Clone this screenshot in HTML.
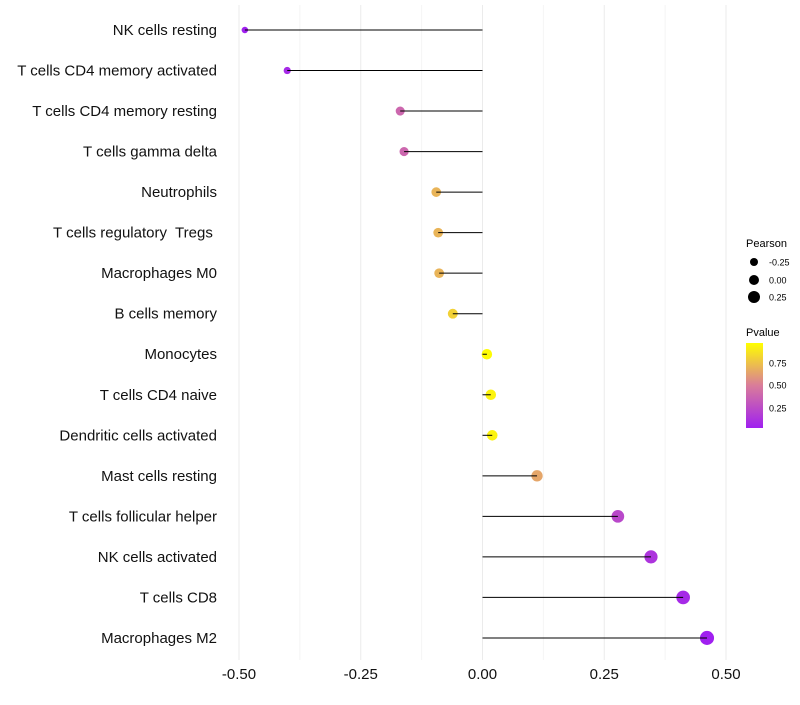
<!DOCTYPE html>
<html><head><meta charset="utf-8"><style>
body{margin:0;background:#fff;font-family:"Liberation Sans",sans-serif}
text{white-space:pre}
</style></head><body>
<svg id="chart" width="800" height="700" xmlns="http://www.w3.org/2000/svg" font-family="Liberation Sans, sans-serif" xml:space="preserve">
<defs><linearGradient id="pg" x1="0" y1="1" x2="0" y2="0">
<stop offset="0" stop-color="#a020f0"/><stop offset="0.5" stop-color="#d97c9a"/><stop offset="1" stop-color="#ffff00"/></linearGradient></defs>
<g id="grid"></g>
<g id="marks"></g>
<g id="labels"></g>
<g font-size="11">
<text x="746" y="247">Pearson</text>
<circle cx="754" cy="262" r="4" fill="#000"/>
<text x="769" y="265.5" font-size="9">-0.25</text>
<circle cx="754" cy="280" r="5" fill="#000"/>
<text x="769" y="283.5" font-size="9">0.00</text>
<circle cx="754" cy="297" r="6" fill="#000"/>
<text x="769" y="300.5" font-size="9">0.25</text>
<text x="746" y="336">Pvalue</text>
<rect x="746" y="343" width="17" height="85" fill="url(#pg)"/>
<text x="769" y="366.5" font-size="9">0.75</text>
<text x="769" y="388.5" font-size="9">0.50</text>
<text x="769" y="411.5" font-size="9">0.25</text>
</g>
</svg>
<script>
const categories=["NK cells resting","T cells CD4 memory activated","T cells CD4 memory resting","T cells gamma delta","Neutrophils","T cells regulatory  Tregs ","Macrophages M0","B cells memory","Monocytes","T cells CD4 naive","Dendritic cells activated","Mast cells resting","T cells follicular helper","NK cells activated","T cells CD8","Macrophages M2"];
const pearson=[-0.488,-0.401,-0.169,-0.161,-0.095,-0.091,-0.089,-0.061,0.009,0.017,0.020,0.112,0.278,0.346,0.412,0.461];
const pvalue=[0.05,0.1,0.4,0.4,0.7,0.7,0.7,0.8,0.95,0.92,0.92,0.65,0.25,0.15,0.1,0.05];
const xTicks=[-0.5,-0.25,0,0.25,0.5];
const xTickLabels=["-0.50","-0.25","0.00","0.25","0.50"];
const NS="http://www.w3.org/2000/svg";
const xs=v=>482.5+v*487;
const ys=i=>30+i*40.53;
function mk(t,a,p){const e=document.createElementNS(NS,t);for(const k in a)e.setAttribute(k,a[k]);p.appendChild(e);return e;}
function col(p){let t=Math.max(0,Math.min(1,(p-0.05)/0.91));const A=[160,32,240],M=[217,124,154],B=[255,255,0];let c;if(t<0.5){const u=t/0.5;c=A.map((a,i)=>a+(M[i]-a)*u);}else{const u=(t-0.5)/0.5;c=M.map((a,i)=>a+(B[i]-a)*u);}return `rgb(${c.map(Math.round).join(',')})`;}
const grid=document.getElementById('grid'),marks=document.getElementById('marks'),labels=document.getElementById('labels');
for(let k=0;k<xTicks.length;k++){
 const l=mk('line',{x1:xs(xTicks[k]),x2:xs(xTicks[k]),y1:5,y2:660,stroke:'#ebebeb','stroke-width':1},grid);
 
 
 if(k<xTicks.length-1){const m=(xTicks[k]+xTicks[k+1])/2;
 const g=mk('line',{x1:xs(m),x2:xs(m),y1:5,y2:660,stroke:'#f4f4f4','stroke-width':1},grid);
 
 }
 const t=mk('text',{x:xs(xTicks[k]),y:679,'text-anchor':'middle','font-size':15,fill:'#111'},labels);
 t.textContent=xTickLabels[k];
 
 
}
categories.forEach((c,i)=>{
 const y=ys(i);
 const t=mk('text',{x:217,y:y+5,'text-anchor':'end','font-size':15,fill:'#111'},labels);
 t.textContent=c;
 
 
 const r=Math.max(2,5.2+4*pearson[i]);
 const d=mk('circle',{cx:xs(pearson[i]),cy:y,r:r,fill:col(pvalue[i])},marks);
 
 
 const l=mk('line',{x1:xs(0),x2:xs(pearson[i]),y1:y,y2:y,stroke:'#000','stroke-width':1},marks);
 
 
});
</script>
</body></html>
